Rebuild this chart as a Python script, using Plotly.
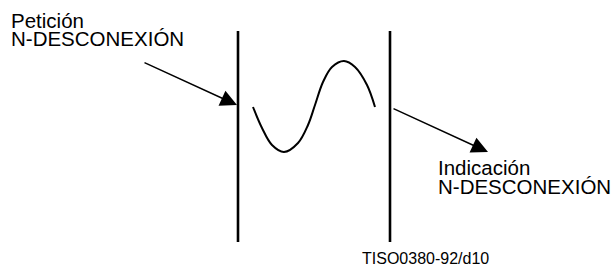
import plotly.graph_objects as go

# Diagram geometry (pixel coordinates, y downward)
boundary_x = [238, 390]          # two vertical boundaries
boundary_y = [31, 242]           # top / bottom of boundaries

wave_x = [253, 262, 272, 284, 298, 308, 315, 323, 332, 344, 355, 367, 375]
wave_y = [107, 128, 145, 152, 143, 125, 105, 82, 67, 61, 67, 85, 107]

arrow_tail_x = [143, 392]
arrow_tail_y = [62, 108]
arrow_tip_x = [237, 488]
arrow_tip_y = [105, 152]

label_lines = ["Petición", "N-DESCONEXIÓN", "Indicación", "N-DESCONEXIÓN"]
label_x = [10, 10, 437, 437]
label_baseline = [28, 46, 175, 194]
ref_text = "TISO0380-92/d10"
ref_x = 361
ref_baseline = 264

FS = 20.5
FS_REF = 16
FONT = "Liberation Sans, Arial, sans-serif"

fig = go.Figure()

for bx in boundary_x:
    fig.add_trace(go.Scatter(x=[bx, bx], y=boundary_y, mode="lines",
                             line=dict(color="black", width=2.6),
                             hoverinfo="skip"))

fig.add_trace(go.Scatter(x=wave_x, y=wave_y, mode="lines",
                         line=dict(color="black", width=2, shape="spline", smoothing=1.0),
                         hoverinfo="skip"))

for tx, ty, hx, hy in zip(arrow_tail_x, arrow_tail_y, arrow_tip_x, arrow_tip_y):
    fig.add_annotation(x=hx, y=hy, ax=tx, ay=ty, xref="x", yref="y",
                       axref="x", ayref="y", text="", showarrow=True,
                       arrowhead=2, arrowsize=2.2, arrowwidth=1.5,
                       arrowcolor="black")

for txt, lx, lb in zip(label_lines, label_x, label_baseline):
    fig.add_annotation(x=lx, y=lb - 0.35 * FS, xref="x", yref="y", text=txt,
                       showarrow=False, xanchor="left", yanchor="middle",
                       borderpad=0, font=dict(family=FONT, size=FS, color="black"))

fig.add_annotation(x=ref_x, y=ref_baseline - 0.35 * FS_REF, xref="x", yref="y",
                   text=ref_text, showarrow=False, xanchor="left", yanchor="middle",
                   borderpad=0, font=dict(family=FONT, size=FS_REF, color="black"))

fig.update_layout(width=616, height=266, margin=dict(l=0, r=0, t=0, b=0),
                  showlegend=False, plot_bgcolor="white", paper_bgcolor="white",
                  xaxis=dict(range=[0, 616], visible=False, fixedrange=True),
                  yaxis=dict(range=[266, 0], visible=False, fixedrange=True))

fig.write_html("out.html", config={"displayModeBar": False},
               post_script="document.body.style.margin='0';document.body.style.overflow='hidden';")
